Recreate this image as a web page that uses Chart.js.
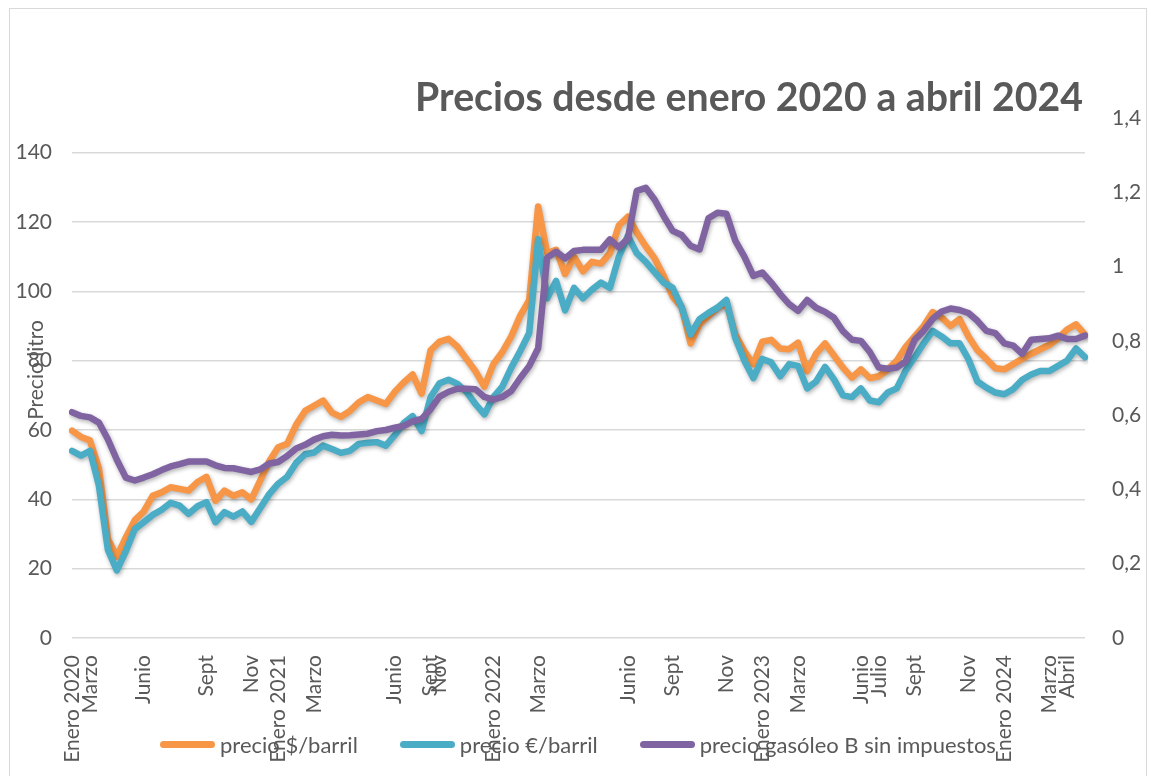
<!DOCTYPE html>
<html lang="es">
<head>
<meta charset="utf-8">
<title>Precios desde enero 2020 a abril 2024</title>
<script src="https://cdn.jsdelivr.net/npm/chart.js@4.4.1/dist/chart.umd.min.js"></script>
<style>
  html, body { margin: 0; padding: 0; background: #fff; overflow: hidden; }
  #marco { position: absolute; left: 9px; top: 8px; width: 1138px; height: 800px; border: 1px solid #d9d9d9; box-sizing: border-box; }
  #caja { position: absolute; left: 0; top: 0; width: 1151px; height: 776px; }
  #leyenda { position: absolute; left: 160px; top: 731px; display: flex; align-items: center; font: 22px Lato, sans-serif; color: #595959; }
  .item { display: flex; align-items: center; margin-right: 42px; }
  .barra { width: 55px; height: 7px; border-radius: 4px; margin-right: 5px; }
</style>
</head>
<body>
<div id="marco"></div>
<div id="caja"><canvas id="preciosChart"></canvas></div>
<div id="leyenda"></div>
<script>
const titulo = 'Precios desde enero 2020 a abril 2024';

// Etiquetas del eje X (una por semana aprox., solo algunas con texto)
const etiquetasMes = {
  0: 'Enero 2020', 2: 'Marzo', 8: 'Junio', 15: 'Sept', 20: 'Nov',
  23: 'Enero 2021', 27: 'Marzo', 36: 'Junio', 40: 'Sept', 41: 'Nov',
  47: 'Enero 2022', 52: 'Marzo', 62: 'Junio', 67: 'Sept', 73: 'Nov',
  77: 'Enero 2023', 81: 'Marzo', 88: 'Junio', 90: 'Julio', 94: 'Sept', 100: 'Nov',
  104: 'Enero 2024', 109: 'Marzo', 111: 'Abril'
};

// precio $/barril
const precioDolar = [
  59.8, 58, 57, 49, 28.6, 23.5, 29, 34, 36.5, 41,
  42, 43.5, 43, 42.5, 45, 46.5, 39.6, 42.5, 41, 42,
  40, 45.5, 51, 55, 56, 61.5, 65.5, 67, 68.5, 65,
  63.8, 65.5, 68, 69.5, 68.5, 67.5, 71, 73.7, 76, 70.5,
  83, 85.5, 86.3, 84, 80.5, 77, 72.5, 79, 82.5, 87,
  93, 97.5, 124.5, 111, 112, 105, 110, 105.8, 108.5, 108,
  111, 119, 121.5, 117, 113, 109.5, 104.5, 98.5, 95.5, 85,
  90.5, 92.9, 95.3, 96.5, 87.5, 82.8, 79, 85.5, 86, 83.5,
  83.3, 85.2, 77, 82, 85, 81.5, 78, 75.1, 77.5, 75,
  75.5, 77.5, 80, 84, 87, 90, 94, 92.5, 90, 92,
  87, 83, 80.5, 77.8, 77.5, 79, 80.5, 82, 83.3, 84.5,
  86.5, 89, 90.5, 87.5
];

// precio €/barril
const precioEuro = [
  54, 52.6, 54, 44, 25.5, 19.5, 25, 31.4, 33.4, 35.5,
  37, 39, 38.2, 35.8, 38, 39.2, 33.4, 36.3, 35, 36.5,
  33.5, 37.5, 41.5, 44.5, 46.5, 50.5, 53, 53.5, 55.5, 54.5,
  53.4, 54, 56, 56.3, 56.5, 55.5, 58.5, 62, 64, 59.7,
  69.5, 73.5, 74.5, 73.3, 71, 67.5, 64.5, 69.5, 72.5, 78,
  82.8, 88, 115, 98, 103, 94.5, 101, 98, 100.5, 102.5,
  101, 110, 116, 111, 108.5, 105.5, 102.5, 101, 95.5, 87.6,
  92, 93.8, 95.3, 97.5, 86.5, 80, 75, 80.5, 79.5, 75.5,
  79, 78.5, 72, 74, 78.2, 74.6, 70, 69.5, 72, 68.5,
  68, 70.8, 72, 77.2, 81, 85, 88.6, 87, 85, 85,
  80.4, 74, 72.2, 70.8, 70.3, 71.8, 74.5, 76, 77, 77,
  78.5, 80, 83.5, 81
];

// precio gasóleo B sin impuestos (€/litro, eje derecho)
const precioGasoleo = [
  0.608, 0.598, 0.594, 0.58, 0.535, 0.48, 0.432, 0.424, 0.432, 0.441,
  0.452, 0.462, 0.468, 0.475, 0.475, 0.475, 0.465, 0.458, 0.457, 0.452,
  0.447, 0.454, 0.47, 0.474, 0.49, 0.51, 0.52, 0.534, 0.543, 0.547,
  0.545, 0.546, 0.548, 0.55, 0.557, 0.56, 0.566, 0.571, 0.583, 0.59,
  0.616, 0.65, 0.663, 0.671, 0.671, 0.67, 0.649, 0.642, 0.649, 0.665,
  0.70, 0.732, 0.78, 1.024, 1.04, 1.022, 1.042, 1.045, 1.045, 1.045,
  1.073, 1.052, 1.075, 1.204, 1.212, 1.18, 1.136, 1.096, 1.085, 1.056,
  1.046, 1.13, 1.145, 1.142, 1.069, 1.027, 0.975, 0.984, 0.957, 0.926,
  0.899, 0.881, 0.91, 0.889, 0.878, 0.862, 0.826, 0.803, 0.80, 0.77,
  0.728, 0.725, 0.728, 0.745, 0.803, 0.827, 0.859, 0.879, 0.887, 0.883,
  0.875, 0.854, 0.827, 0.821, 0.793, 0.787, 0.765, 0.803, 0.805, 0.807,
  0.814, 0.805, 0.805, 0.814
];

const etiquetas = precioDolar.map((_, i) => etiquetasMes[i] || '');

const series = [
  { label: 'precio $/barril', data: precioDolar, color: '#F79646', eje: 'y', orden: 2 },
  { label: 'precio €/barril', data: precioEuro, color: '#4BACC6', eje: 'y', orden: 1 },
  { label: 'precio gasóleo B sin impuestos', data: precioGasoleo, color: '#8064A2', eje: 'y1', orden: 0 }
];

const gris = '#595959';
const fuente = { family: 'Lato', size: 21 };

// Titulo y titulo del eje, dibujados sobre el canvas
const textosPlugin = {
  id: 'textos',
  afterDraw(chart) {
    const ctx = chart.ctx;
    ctx.save();
    ctx.font = 'bold 100px Lato';
    const ancho = ctx.measureText(titulo).width;
    const tam = 100 * 668 / ancho;
    ctx.font = `bold ${tam}px Lato`;
    ctx.fillStyle = gris;
    ctx.textAlign = 'right';
    ctx.textBaseline = 'alphabetic';
    ctx.fillText(titulo, 1083, 111);

    ctx.font = '21px Lato';
    ctx.translate(36, 370);
    ctx.rotate(-Math.PI / 2);
    ctx.textAlign = 'center';
    ctx.textBaseline = 'middle';
    ctx.fillText('Precio litro', 0, 0);
    ctx.restore();
  }
};

// Sombra suave bajo las lineas
const sombraPlugin = {
  id: 'sombra',
  beforeDatasetDraw(chart) {
    const c = chart.ctx;
    c.save();
    c.shadowColor = 'rgba(0,0,0,0.3)';
    c.shadowBlur = 4;
    c.shadowOffsetX = 1;
    c.shadowOffsetY = 2;
  },
  afterDatasetDraw(chart) {
    chart.ctx.restore();
  }
};

const ctx = document.getElementById('preciosChart').getContext('2d');
new Chart(ctx, {
  type: 'line',
  data: {
    labels: etiquetas,
    datasets: series.map(s => ({
      label: s.label,
      data: s.data,
      borderColor: s.color,
      backgroundColor: s.color,
      borderWidth: 6.5,
      pointRadius: 0,
      tension: 0,
      borderJoinStyle: 'round',
      borderCapStyle: 'round',
      fill: false,
      yAxisID: s.eje,
      order: s.orden
    }))
  },
  options: {
    responsive: true,
    maintainAspectRatio: false,
    animation: false,
    layout: { padding: { left: 10, right: 8, top: 118, bottom: 10 } },
    plugins: {
      legend: { display: false },
      title: { display: false },
      tooltip: { enabled: false }
    },
    scales: {
      x: {
        offset: false,
        grid: { display: false, drawTicks: false },
        border: { display: false },
        ticks: {
          autoSkip: false,
          maxRotation: 90,
          minRotation: 90,
          padding: 17,
          color: gris,
          font: fuente
        },
        afterFit(scale) { scale.height = 128; }
      },
      y: {
        position: 'left',
        min: 0,
        max: 150,
        ticks: { stepSize: 20, padding: 20, color: gris, font: fuente },
        grid: { color: '#d9d9d9', lineWidth: 1.5, drawTicks: false },
        border: { display: false },
        afterBuildTicks(scale) { scale.ticks = scale.ticks.filter(t => t.value <= 140); },
        afterFit(scale) { scale.width = 62; }
      },
      y1: {
        position: 'right',
        min: 0,
        max: 1.4,
        ticks: {
          stepSize: 0.2,
          padding: 27,
          color: gris,
          font: fuente,
          callback: v => String(Math.round(v * 10) / 10).replace('.', ',')
        },
        grid: { display: false, drawTicks: false },
        border: { display: false },
        afterFit(scale) { scale.width = 58; }
      }
    }
  },
  plugins: [textosPlugin, sombraPlugin]
});

// Leyenda
const leyenda = document.getElementById('leyenda');
series.forEach(s => {
  const item = document.createElement('div');
  item.className = 'item';
  const barra = document.createElement('span');
  barra.className = 'barra';
  barra.style.background = s.color;
  const texto = document.createElement('span');
  texto.textContent = s.label;
  item.appendChild(barra);
  item.appendChild(texto);
  leyenda.appendChild(item);
});
</script>
</body>
</html>
